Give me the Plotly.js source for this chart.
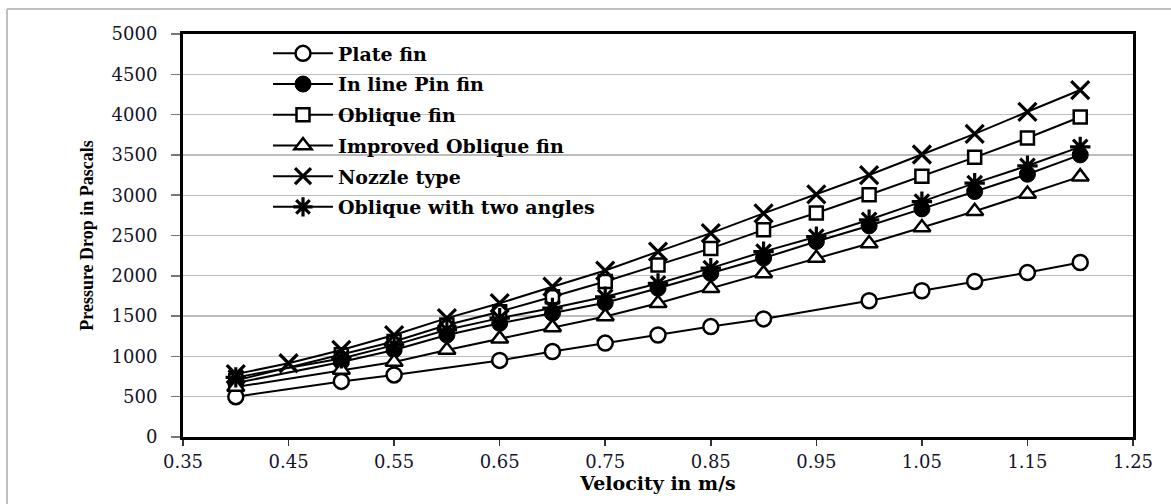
<!DOCTYPE html>
<html>
<head>
<meta charset="utf-8">
<script src="https://cdn.plot.ly/plotly-3.0.1.min.js"></script>
<style>
  html, body { margin: 0; padding: 0; background: #ffffff; }
  #chart { width: 1171px; height: 504px; }
</style>
</head>
<body>
<div id="chart"></div>
<script>
// ---- Data ----
const seriesNames = [
  "Plate fin",
  "In line Pin fin",
  "Oblique fin",
  "Improved Oblique fin",
  "Nozzle type",
  "Oblique with two angles"
];

const xPlate = [0.40, 0.50, 0.55, 0.65, 0.70, 0.75, 0.80, 0.85, 0.90, 1.00, 1.05, 1.10, 1.15, 1.20];
const yPlate = [500, 690, 770, 950, 1060, 1165, 1265, 1370, 1465, 1690, 1815, 1930, 2040, 2165];

const xCommon = [0.40, 0.50, 0.55, 0.60, 0.65, 0.70, 0.75, 0.80, 0.85, 0.90, 0.95, 1.00, 1.05, 1.10, 1.15, 1.20];
const yInline = [670, 930, 1080, 1265, 1410, 1535, 1665, 1845, 2030, 2220, 2425, 2620, 2830, 3045, 3260, 3500];
const yOblique = [700, 1020, 1185, 1390, 1555, 1740, 1930, 2135, 2340, 2570, 2780, 3005, 3235, 3470, 3710, 3970];
const yImproved = [620, 830, 930, 1080, 1220, 1360, 1495, 1660, 1845, 2030, 2220, 2400, 2600, 2800, 3015, 3230];
const yTwoAngles = [740, 975, 1140, 1330, 1475, 1600, 1740, 1905, 2095, 2300, 2485, 2695, 2920, 3150, 3365, 3600];

const xNozzle = [0.40, 0.45, 0.50, 0.55, 0.60, 0.65, 0.70, 0.75, 0.80, 0.85, 0.90, 0.95, 1.00, 1.05, 1.10, 1.15, 1.20];
const yNozzle = [780, 915, 1080, 1265, 1475, 1660, 1865, 2065, 2300, 2530, 2775, 3010, 3250, 3505, 3760, 4035, 4305];

const xTickVals = [0.35, 0.45, 0.55, 0.65, 0.75, 0.85, 0.95, 1.05, 1.15, 1.25];
const xTickText = ["0.35", "0.45", "0.55", "0.65", "0.75", "0.85", "0.95", "1.05", "1.15", "1.25"];
const yTickVals = [0, 500, 1000, 1500, 2000, 2500, 3000, 3500, 4000, 4500, 5000];
const yTickText = ["0", "500", "1000", "1500", "2000", "2500", "3000", "3500", "4000", "4500", "5000"];

const xTitle = "Velocity in m/s";
const yTitle = "Pressure Drop in Pascals";

// ---- Styling ----
const BLACK = "#000000";
function trace(name, xs, ys, symbol, size, fillColor, mlw, grp) {
  return {
    type: "scatter",
    mode: "lines+markers",
    name: name,
    legendgroup: grp,
    x: xs,
    y: ys,
    line: { color: BLACK, width: 2 },
    marker: {
      symbol: symbol,
      size: size,
      color: fillColor,
      line: { color: BLACK, width: mlw }
    },
    cliponaxis: false
  };
}

const data = [
  trace(seriesNames[0], xPlate, yPlate, "circle", 15, "#ffffff", 2.5, "g0"),
  trace(seriesNames[1], xCommon, yInline, "circle", 16, BLACK, 1, "g1"),
  trace(seriesNames[2], xCommon, yOblique, "square", 13, "#ffffff", 2.5, "g2"),
  trace(seriesNames[3], xCommon, yImproved, "triangle-up", 15, "#ffffff", 2.5, "g3"),
  trace(seriesNames[4], xNozzle, yNozzle, "x-thin", 18, BLACK, 3.2, "g4"),
  trace(seriesNames[5], xCommon, yTwoAngles, "asterisk", 17, BLACK, 3.2, "g5")
];

const L = 183, R = 38, T = 34, B = 67, W = 1171, H = 504;
const pw = W - L - R, ph = H - T - B;
function px2x(px) { return (px - L) / pw; }
function py2y(py) { return (H - B - py) / ph; }

const tickFont = { family: "DejaVu Serif, Liberation Serif, serif", size: 18, color: "#14142a" };

const layout = {
  width: W,
  height: H,
  margin: { l: L, r: R, t: T, b: B, pad: 0 },
  paper_bgcolor: "#ffffff",
  plot_bgcolor: "#ffffff",
  showlegend: true,
  legend: {
    x: px2x(268),
    y: py2y(34.5),
    xanchor: "left",
    yanchor: "top",
    bgcolor: "rgba(255,255,255,0)",
    borderwidth: 0,
    traceorder: "grouped",
    tracegroupgap: 3,
    itemwidth: 60,
    font: { family: "DejaVu Serif, Liberation Serif, serif", size: 19, color: BLACK, weight: "bold" }
  },
  xaxis: {
    range: [0.35, 1.25],
    tickmode: "array",
    tickvals: xTickVals,
    ticktext: xTickText,
    ticks: "outside",
    ticklen: 6,
    tickwidth: 1.5,
    tickcolor: "#333333",
    ticklabelstandoff: 0,
    showgrid: false,
    zeroline: false,
    showline: true,
    linecolor: BLACK,
    linewidth: 3,
    mirror: true,
    tickfont: tickFont,
    title: {
      text: xTitle,
      font: { family: "DejaVu Serif, Liberation Serif, serif", size: 19, color: BLACK, weight: "bold" },
      standoff: 4
    },
    automargin: false
  },
  yaxis: {
    range: [0, 5000],
    tickmode: "array",
    tickvals: yTickVals,
    ticktext: yTickText,
    ticks: "outside",
    ticklen: 9,
    tickwidth: 1.5,
    tickcolor: "#777777",
    ticklabelstandoff: 10,
    showgrid: true,
    gridcolor: "#bdbdbd",
    gridwidth: 1.3,
    zeroline: false,
    showline: true,
    linecolor: BLACK,
    linewidth: 3,
    mirror: true,
    tickfont: tickFont,
    title: {
      text: yTitle,
      font: { family: "Liberation Serif, Times New Roman, serif", size: 18, color: BLACK, weight: "bold" },
      standoff: 14
    },
    automargin: false
  },
  shapes: [
    { type: "line", xref: "paper", yref: "paper", x0: px2x(7), x1: px2x(7), y0: py2y(9), y1: py2y(504), line: { color: "#bfbfbf", width: 2 }, layer: "below" },
    { type: "line", xref: "paper", yref: "paper", x0: px2x(7), x1: px2x(1171), y0: py2y(9), y1: py2y(9), line: { color: "#bfbfbf", width: 2 }, layer: "below" }
  ]
};

Plotly.newPlot("chart", data, layout, { displayModeBar: false, staticPlot: true });
</script>
</body>
</html>
